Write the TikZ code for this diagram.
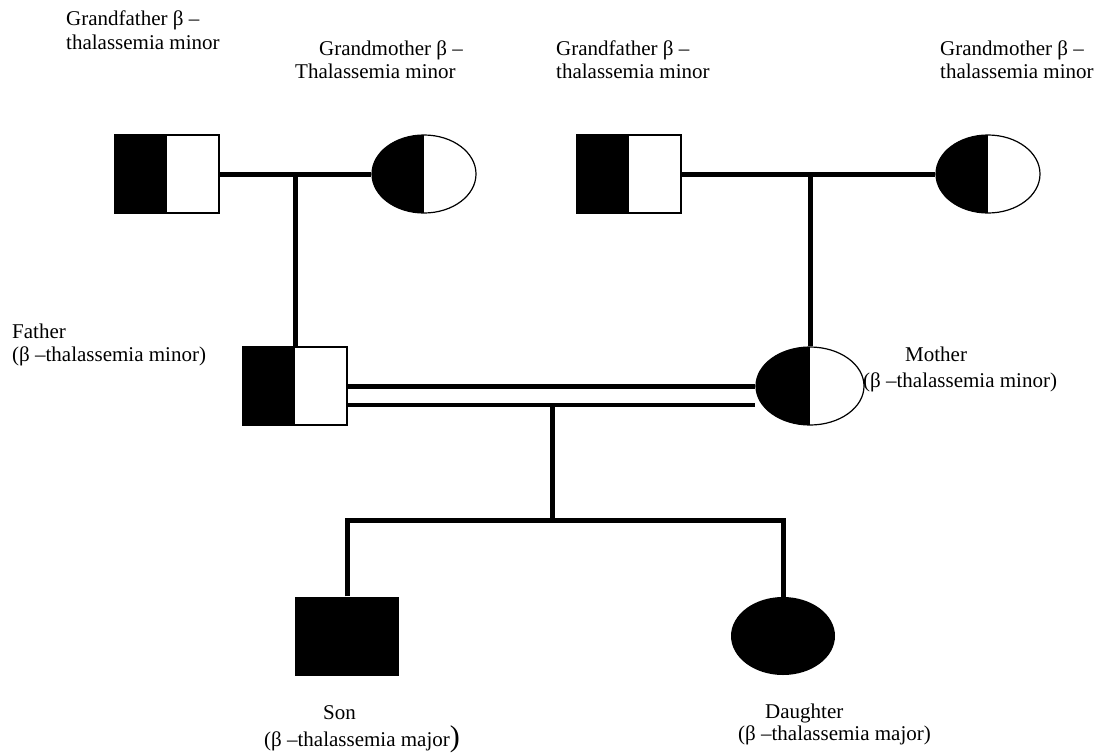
\documentclass[tikz,border=0pt]{standalone}
\usepackage{fontspec}
\setmainfont{Liberation Serif}
\usetikzlibrary{shapes.geometric,positioning}

\tikzset{
  carrierm/.style={rectangle, draw, line width=1.2pt, minimum width=104pt, minimum height=78pt, inner sep=0pt,
    path picture={\fill[black] (path picture bounding box.south west) rectangle (path picture bounding box.north);}},
  carrierf/.style={ellipse, draw, line width=1.2pt, minimum width=104pt, minimum height=78pt, inner sep=0pt,
    path picture={\fill[black] (path picture bounding box.south west) rectangle (path picture bounding box.north);}},
  affm/.style={rectangle, fill=black, minimum width=104pt, minimum height=79pt, inner sep=0pt},
  afff/.style={ellipse, fill=black, minimum width=104pt, minimum height=78pt, inner sep=0pt},
  mline/.style={line width=5pt},
  lbl/.style={font=\fontsize{21}{24}\selectfont, anchor=base west, inner sep=0pt}
}

\begin{document}
\begin{tikzpicture}[x=1pt,y=-1pt]
  \useasboundingbox (0,0) rectangle (1105,753);
  % grandparents
  \node[carrierm] (gf1) at (167,174) {};
  \node[carrierf] (gm1) at (424,174) {};
  \node[carrierm] (gf2) at (629,174) {};
  \node[carrierf] (gm2) at (988,174) {};
  % parents
  \node[carrierm] (father) at (295,386) {};
  \node[carrierf, minimum width=108pt] (mother) at (810,386) {};
  % children
  \node[affm] (son) at (347,636) {};
  \node[afff] (daughter) at (783,636) {};

  % lines of descent
  \coordinate (c1) at (295,174);
  \coordinate (c2) at (810,174);
  \draw[mline] (gf1) -- (gm1);
  \draw[mline] (c1) -- (father);
  \draw[mline] (gf2) -- (gm2);
  \draw[mline] (c2) -- (mother);
  \draw[mline] (father) -- (mother);
  \coordinate (low) at ([yshift=-19pt]father.east);
  \draw[line width=3.5pt] (low) -- (low -| mother.west);
  \coordinate (c3) at (552,405);
  \coordinate (sibbar) at (552,520);
  \draw[mline] (c3) -- (sibbar);
  \draw[mline] (son) |- (sibbar) -| (daughter);

  % labels
  \node[lbl] (gf1a) at (66,25) {Grandfather β –};
  \node[lbl] (gf1b) at (66,49) {thalassemia minor};
  \node[lbl] (gm1a) at (319,55) {Grandmother β –};
  \node[lbl] (gm1b) at (295,78) {Thalassemia minor};
  \node[lbl] (gf2a) at (556,55) {Grandfather β –};
  \node[lbl] (gf2b) at (556,78) {thalassemia minor};
  \node[lbl] (gm2a) at (940,55) {Grandmother β –};
  \node[lbl] (gm2b) at (940,78) {thalassemia minor};
  \node[lbl] (fa) at (12,338) {Father};
  \node[lbl] (fb) at (12,361) {(β –thalassemia minor)};
  \node[lbl] (ma) at (905,361) {Mother};
  \node[lbl] (mb) at (863,387) {(β –thalassemia minor)};
  \node[lbl] (sa) at (323,719) {Son};
  \node[lbl] (sb) at (264,746) {(β –thalassemia major{\fontsize{30}{30}\selectfont )}};
  \node[lbl] (da) at (765,718) {Daughter};
  \node[lbl] (db) at (738,740) {(β –thalassemia major)};
\end{tikzpicture}
\end{document}
